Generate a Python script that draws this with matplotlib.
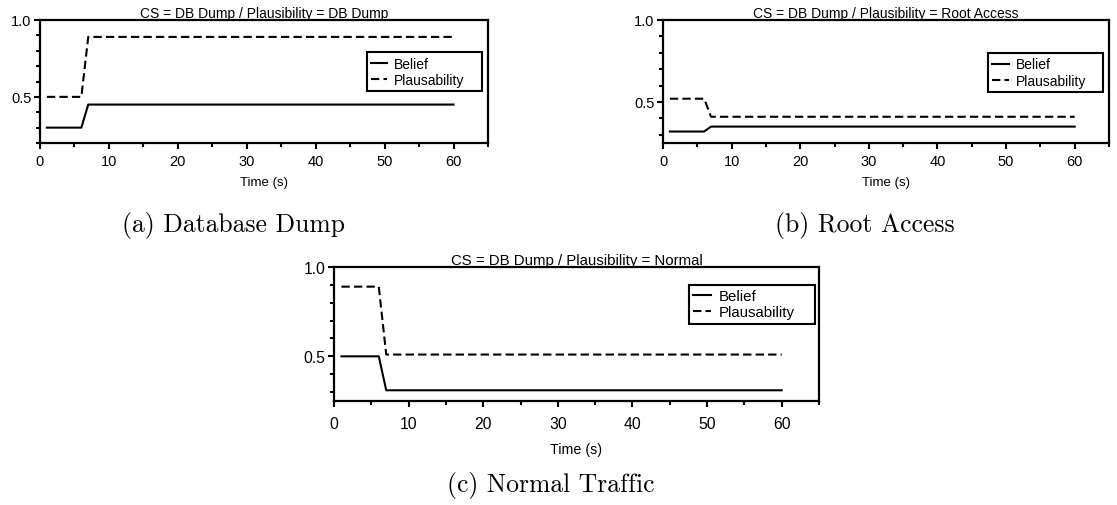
import matplotlib
matplotlib.use("Agg")
import matplotlib.pyplot as plt
from matplotlib.ticker import MultipleLocator

# time points of the traces (s)
time_s = [1, 6, 7, 60]

# (a) plausibility = DB dump
belief_dump = [0.30, 0.30, 0.45, 0.45]
plaus_dump = [0.50, 0.50, 0.89, 0.89]

# (b) plausibility = root access
belief_root = [0.32, 0.32, 0.35, 0.35]
plaus_root = [0.52, 0.52, 0.41, 0.41]

# (c) plausibility = normal
belief_normal = [0.50, 0.50, 0.31, 0.31]
plaus_normal = [0.89, 0.89, 0.51, 0.51]

titles = ['CS = DB Dump / Plausibility = DB Dump',
          'CS = DB Dump / Plausibility = Root Access',
          'CS = DB Dump / Plausibility = Normal']
captions = ['(a) Database Dump', '(b) Root Access', '(c) Normal Traffic']
y_lows = [0.2, 0.25, 0.25]

W, H = 1117, 506
plt.rcParams['font.family'] = ['Liberation Sans', 'DejaVu Sans']


def px_box(left, top, right, bottom):
    """pixel box -> figure fraction rect"""
    return [left / W, (H - bottom) / H, (right - left) / W, (bottom - top) / H]


def trace_panel(ax, belief, plaus, title, ylow, fs, tpad, lpad):
    ax.plot(time_s, belief, color='black', lw=1.5, label='Belief')
    ax.plot(time_s, plaus, color='black', lw=1.5, dashes=(4, 2),
            label='Plausability')
    ax.set_xlim(0, 65)
    ax.set_ylim(ylow, 1.0)
    ax.xaxis.set_major_locator(MultipleLocator(10))
    ax.xaxis.set_minor_locator(MultipleLocator(5))
    ax.yaxis.set_major_locator(MultipleLocator(0.5))
    ax.yaxis.set_minor_locator(MultipleLocator(0.1))
    ax.tick_params(which='major', direction='out', length=4, width=1.5,
                   labelsize=fs * 1.05)
    ax.tick_params(axis='x', which='major', pad=tpad)
    ax.tick_params(axis='y', which='major', pad=2)
    ax.tick_params(which='minor', direction='out', length=3, width=1.5)
    for sp in ax.spines.values():
        sp.set_linewidth(1.6)
    ax.set_title(title, fontsize=fs, pad=2)
    ax.set_xlabel('Time (s)', fontsize=fs * 0.95, labelpad=lpad)
    return ax


fig = plt.figure(figsize=(W / 100, H / 100), dpi=100)

ax_a = fig.add_axes(px_box(40, 21, 488, 144))
ax_b = fig.add_axes(px_box(663, 21, 1109, 144))
ax_c = fig.add_axes(px_box(334, 268, 819, 402))

# axes, belief, plausibility, font size, tick pad, label pad, legend box
panels = [(ax_a, belief_dump, plaus_dump, 10, 4, 6, (0.729, 0.737, 0.257)),
          (ax_b, belief_root, plaus_root, 10, 4, 6, (0.728, 0.729, 0.259)),
          (ax_c, belief_normal, plaus_normal, 10.8, 7, 8, (0.731, 0.868, 0.261))]

for i, (ax, bel, pl, fs, tpad, lpad, lbox) in enumerate(panels):
    trace_panel(ax, bel, pl, titles[i], y_lows[i], fs, tpad, lpad)
    x0, y_top, w = lbox
    leg = ax.legend(loc='upper left', bbox_to_anchor=(x0, y_top - 0.3, w, 0.3),
                    mode='expand', fontsize=fs,
                    fancybox=False, framealpha=1, edgecolor='black',
                    handlelength=1.2, handletextpad=0.5, labelspacing=0.15,
                    borderpad=0.3, borderaxespad=0)
    leg.get_frame().set_linewidth(1.5)

# subfigure captions
cap_font = dict(ha='center', va='center', family='cmr10', fontsize=18.5)
fig.text(233 / W, 1 - 226 / H, captions[0], **cap_font)
fig.text(865 / W, 1 - 226 / H, captions[1], **cap_font)
fig.text(551 / W, 1 - 486 / H, captions[2], **cap_font)

fig.savefig('out.png', dpi=100)
